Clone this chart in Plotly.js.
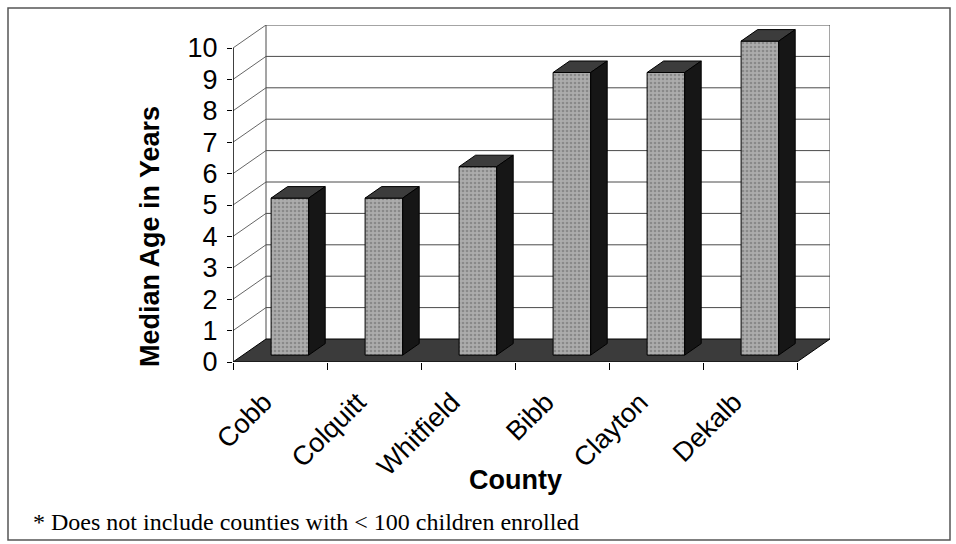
<!DOCTYPE html>
<html>
<head>
<meta charset="utf-8">
<script src="https://cdn.plot.ly/plotly-3.0.1.min.js"></script>
<style>
  html, body { margin: 0; padding: 0; background: #fff; }
  #chart { width: 956px; height: 544px; }
</style>
</head>
<body>
<div id="chart"></div>
<script>
// chart data
const counties = ['Cobb', 'Colquitt', 'Whitfield', 'Bibb', 'Clayton', 'Dekalb'];
const medianAge = [5, 5, 6, 9, 9, 10];
const yTicks = [0, 1, 2, 3, 4, 5, 6, 7, 8, 9, 10];

// fake 3d: depth offset of the floor, in axis units
const PX_CAT = 94, PX_UNIT = 31.4;
const DX = 33 / PX_CAT;
const DY = 23 / PX_UNIT;
const D0 = 0.3, D1 = 0.8;   // bar front / back, as part of the depth
const BAR_W = 0.4;

const L = 233, B = 182;
const plotW = (counties.length + DX) * PX_CAT;
const plotH = (10 + DY) * PX_UNIT;
const T = 544 - B - plotH;
const R = 956 - L - plotW;

// pixel -> paper helpers for text and frame
const xp = px => (px - L) / plotW;
const yp = py => (544 - B - py) / plotH;

const xLeft = -0.5, xRight = counties.length - 0.5;

const data = [];

// front faces
data.push({
    type: 'bar',
    x: counties.map((c, i) => i + D0 * DX),
    y: medianAge,
    base: medianAge.map(() => D0 * DY),
    width: BAR_W,
    marker: {
        color: '#acacac',
        line: {color: '#000', width: 1},
        pattern: {shape: '.', fgcolor: '#666', size: 4, solidity: 0.35, fillmode: 'overlay'}
    },
    hoverinfo: 'skip'
});

// top and side faces
const bd = D1 - D0;
medianAge.forEach((v, i) => {
    const xc = i + D0 * DX;
    const x0 = xc - BAR_W / 2, x1 = xc + BAR_W / 2;
    const yf = v + D0 * DY, yb = v + D1 * DY;
    data.push({
        type: 'scatter', mode: 'lines', fill: 'toself',
        x: [x0, x1, x1 + bd * DX, x0 + bd * DX, x0],
        y: [yf, yf, yb, yb, yf],
        fillcolor: '#3c3c3c', line: {color: '#000', width: 1}, hoverinfo: 'skip'
    });
    data.push({
        type: 'scatter', mode: 'lines', fill: 'toself',
        x: [x1, x1 + bd * DX, x1 + bd * DX, x1, x1],
        y: [D0 * DY, D1 * DY, yb, yf, D0 * DY],
        fillcolor: '#161616', line: {color: '#000', width: 1}, hoverinfo: 'skip'
    });
});

// walls, gridlines and floor as shapes under the bars
const shapes = [];
const grid = {color: '#4a4a4a', width: 1};
yTicks.filter(v => v > 0).forEach(v => {
    shapes.push({type: 'line', layer: 'below', xref: 'x', yref: 'y',
        x0: xLeft + DX, x1: xRight + DX, y0: v + DY, y1: v + DY, line: grid});
    shapes.push({type: 'line', layer: 'below', xref: 'x', yref: 'y',
        x0: xLeft, x1: xLeft + DX, y0: v, y1: v + DY, line: {color: '#666', width: 1}});
});
shapes.push({type: 'line', layer: 'below', xref: 'x', yref: 'y',
    x0: xLeft + DX, x1: xLeft + DX, y0: DY, y1: 10 + DY, line: grid});
shapes.push({type: 'line', layer: 'below', xref: 'x', yref: 'y',
    x0: xRight + DX, x1: xRight + DX, y0: DY, y1: 10 + DY, line: grid});
shapes.push({type: 'line', layer: 'below', xref: 'x', yref: 'y',
    x0: xLeft, x1: xLeft, y0: 0, y1: 10, line: {color: '#000', width: 1.5}});
shapes.push({type: 'path', layer: 'below', xref: 'x', yref: 'y',
    path: `M ${xLeft},0 L ${xRight},0 L ${xRight + DX},${DY} L ${xLeft + DX},${DY} Z`,
    fillcolor: '#3b3b3b', line: {color: '#000', width: 1}});
// outer frame
shapes.push({type: 'rect', xref: 'paper', yref: 'paper',
    x0: xp(8), x1: xp(950), y0: yp(540), y1: yp(8),
    line: {color: '#555', width: 1.5}});

const layout = {
    width: 956, height: 544,
    margin: {l: L, r: R, t: T, b: B, pad: 0},
    paper_bgcolor: '#fff', plot_bgcolor: 'rgba(0,0,0,0)',
    showlegend: false, hovermode: false,
    font: {family: 'Liberation Sans, Arial, sans-serif', color: '#000'},
    xaxis: {
        range: [xLeft, xRight + DX],
        tickvals: counties.map((c, i) => i),
        ticktext: counties,
        tickangle: -45,
        ticks: '',
        tickfont: {size: 27},
        ticklabelstandoff: 18,
        ticklabelshift: -16,
        minor: {tickvals: counties.map((c, i) => i - 0.5).concat([xRight]), ticks: 'outside', ticklen: 7, tickcolor: '#000', tickwidth: 1},
        showgrid: false, zeroline: false, showline: false
    },
    yaxis: {
        range: [0, 10 + DY],
        tickvals: yTicks,
        ticks: 'outside', ticklen: 5, tickcolor: '#000',
        tickfont: {size: 27},
        ticklabelstandoff: 4,
        showgrid: false, zeroline: false, showline: false
    },
    shapes: shapes,
    annotations: [
        {text: 'Median Age in Years', xref: 'paper', yref: 'paper', x: xp(150), y: yp(237),
         xanchor: 'center', yanchor: 'middle',
         textangle: -90, showarrow: false, font: {size: 27, weight: 700}},
        {text: 'County', xref: 'paper', yref: 'paper', x: xp(515), y: yp(480),
         xanchor: 'center', yanchor: 'middle',
         showarrow: false, font: {size: 27, weight: 700}},
        {text: '* Does not include counties with < 100 children enrolled', xref: 'paper', yref: 'paper',
         x: xp(31), y: yp(522), xanchor: 'left', yanchor: 'middle', showarrow: false,
         font: {family: 'Liberation Serif, Times New Roman, serif', size: 24}}
    ]
};

Plotly.newPlot('chart', data, layout, {staticPlot: true});
</script>
</body>
</html>
